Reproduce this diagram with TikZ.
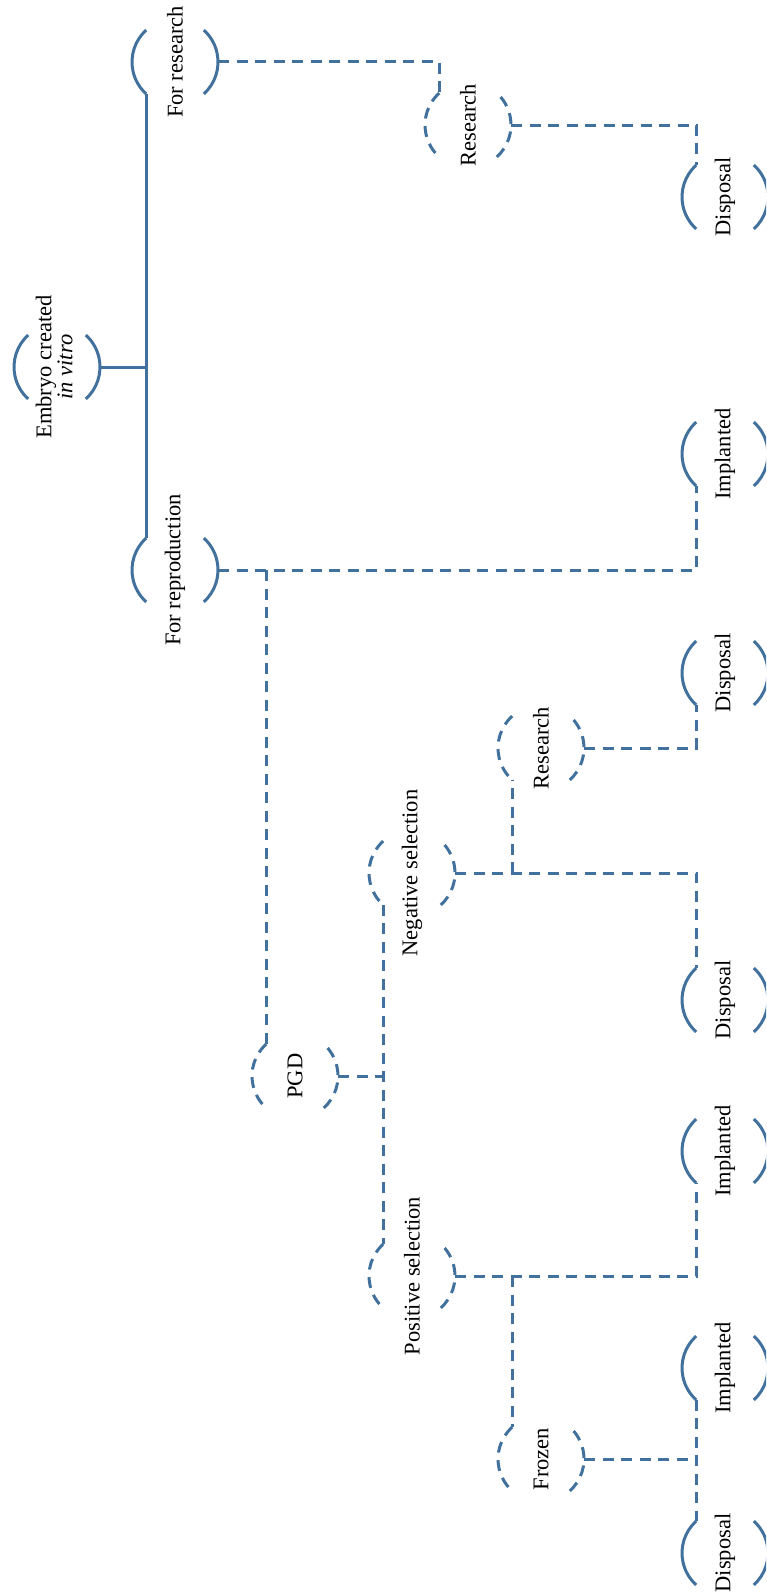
\documentclass[tikz,border=0pt]{standalone}
\usepackage{fontspec}
\setmainfont{Liberation Serif}
\usepackage{graphicx}
\definecolor{lc}{RGB}{65,113,156}
\newcommand\rtext[1]{\rotatebox{90}{\makebox[0pt]{#1}}}
\newcommand\mkarcnode[5]{%
  \node[circ] (#2) at (#3,-#4) {\rtext{#5}};
  \draw[#1] (#2.132) arc[start angle=132,end angle=228,radius=43pt];
  \draw[#1] (#2.-48) arc[start angle=-48,end angle=48,radius=43pt];
}
\begin{document}
\begin{tikzpicture}[x=1pt,y=1pt,
  circ/.style={circle,minimum size=86pt,inner sep=0pt,outer sep=0pt,font=\fontsize{22.5}{20}\selectfont},
  ln/.style={draw=lc,line width=3pt},
  sl/.style={ln},
  dl/.style={ln,dash pattern=on 11pt off 7.5pt},
]
\useasboundingbox (0,0) rectangle (766,-1595);
\clip (0,0) rectangle (766,-1595);
\mkarcnode{sl}{emb}{57}{367}{\begin{tabular}{@{}c@{}}Embryo created\\\textit{in vitro}\end{tabular}}
\mkarcnode{sl}{frs}{175}{62}{For research}
\mkarcnode{sl}{frp}{175}{570}{For reproduction}
\mkarcnode{dl}{rs1}{468}{125}{Research}
\mkarcnode{sl}{d1}{725}{197}{Disposal}
\mkarcnode{sl}{im1}{725}{454}{Implanted}
\mkarcnode{sl}{d2}{725}{673}{Disposal}
\mkarcnode{dl}{rs2}{541}{748}{Research}
\mkarcnode{dl}{neg}{412}{873}{Negative selection}
\mkarcnode{sl}{d3}{725}{1000}{Disposal}
\mkarcnode{dl}{pgd}{295}{1076}{PGD}
\mkarcnode{sl}{im2}{725}{1151}{Implanted}
\mkarcnode{dl}{pos}{412}{1276}{Positive selection}
\mkarcnode{sl}{im3}{725}{1368}{Implanted}
\mkarcnode{dl}{fr}{541}{1459}{Frozen}
\mkarcnode{sl}{d4}{725}{1553}{Disposal}
% connectors
\draw[sl] (emb.east) -- (emb.east -| frs.228);
\draw[sl] (frs.228) -- (frp.132);
\draw[dl] (frs.east) -| (rs1.132);
\draw[dl] (rs1.east) -| (d1.132);
\draw[dl] (frp.east) -| (im1.228);
\draw[dl] (frp.east -| pgd.132) -- (pgd.132);
\draw[dl] (pgd.east) -- (pgd.east -| neg.228);
\draw[dl] (neg.228) -- (pos.132);
\draw[dl] (neg.east) -| (d3.132);
\draw[dl] (neg.east -| rs2.228) -- (rs2.228);
\draw[dl] (rs2.east) -| (d2.228);
\draw[dl] (pos.east) -| (im2.228);
\draw[dl] (pos.east -| fr.132) -- (fr.132);
\draw[dl] (im3.228) -- (d4.132);
\draw[dl] (fr.east) -- (fr.east -| im3.228);
\end{tikzpicture}
\end{document}
